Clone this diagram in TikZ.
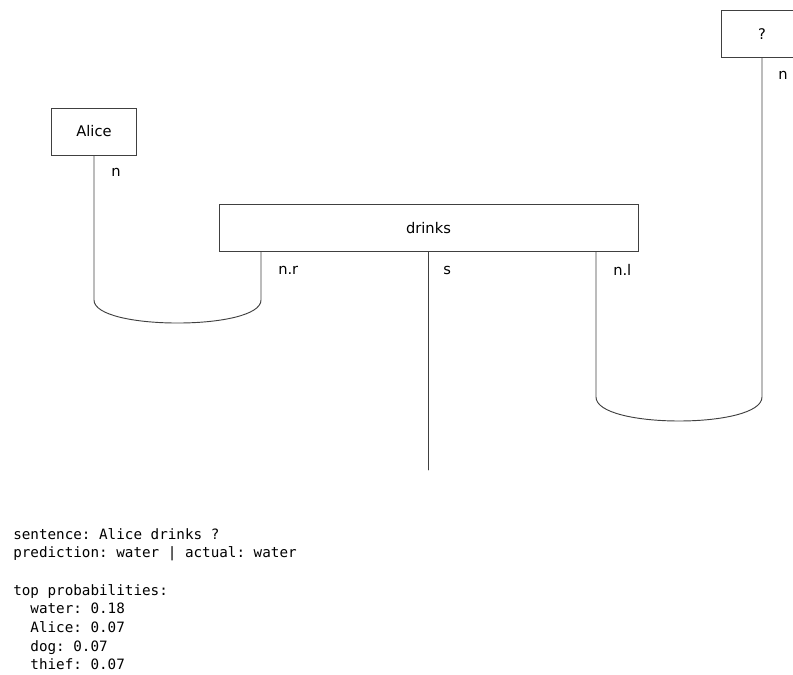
\documentclass[tikz,border=0pt]{standalone}
\usepackage{fontspec}
\setmainfont{DejaVu Sans}
\setmonofont{DejaVu Sans Mono}
\usepackage{tikz}

\begin{document}
\begin{tikzpicture}[x=0.75pt,y=-0.75pt,font=\fontsize{11}{13}\selectfont,line cap=round,
  boxnode/.style={draw=black!75,line width=0.7pt,minimum width=#1,minimum height=35.25pt,inner sep=0pt},
  wire/.style={draw=black!75,line width=0.7pt},
  wirelabel/.style={anchor=west,inner sep=0pt}]
\useasboundingbox (0,0) rectangle (793,675);
\node[boxnode=63.75pt] (alice) at (94,131.5) {Alice};
\node[boxnode=314.25pt] (drinks) at (428.5,228) {drinks};
\node[boxnode=61.5pt] (what) at (762,34) {?};
\coordinate (cupa) at (261,300);
\coordinate (cupb) at (596,397);
\coordinate (send) at (428.5,470);
\draw[wire] (alice.south) -- (alice.south |- cupa) .. controls (94,330.7) and (261,330.7) .. (cupa) -- (cupa |- drinks.south);
\draw[wire] (drinks.south) -- (send);
\draw[wire] (what.south) -- (what.south |- cupb) .. controls (762,429) and (596,429) .. (cupb) -- (cupb |- drinks.south);
\node[wirelabel] (lalice) at (111,172) {n};
\node[wirelabel] (lnr) at (278,270) {n.r};
\node[wirelabel] (ls) at (443,270) {s};
\node[wirelabel] (lnl) at (613,270) {n.l};
\node[wirelabel] (lwhat) at (778,75) {n};
\node[anchor=north west,inner sep=0pt,align=left,font=\ttfamily\fontsize{10.7}{14}\selectfont] (result) at (13,528)
  {sentence: Alice drinks ?\\
   prediction: water | actual: water\\
   \mbox{}\\
   top probabilities:\\
   \phantom{xx}water: 0.18\\
   \phantom{xx}Alice: 0.07\\
   \phantom{xx}dog: 0.07\\
   \phantom{xx}thief: 0.07};
\end{tikzpicture}
\end{document}
